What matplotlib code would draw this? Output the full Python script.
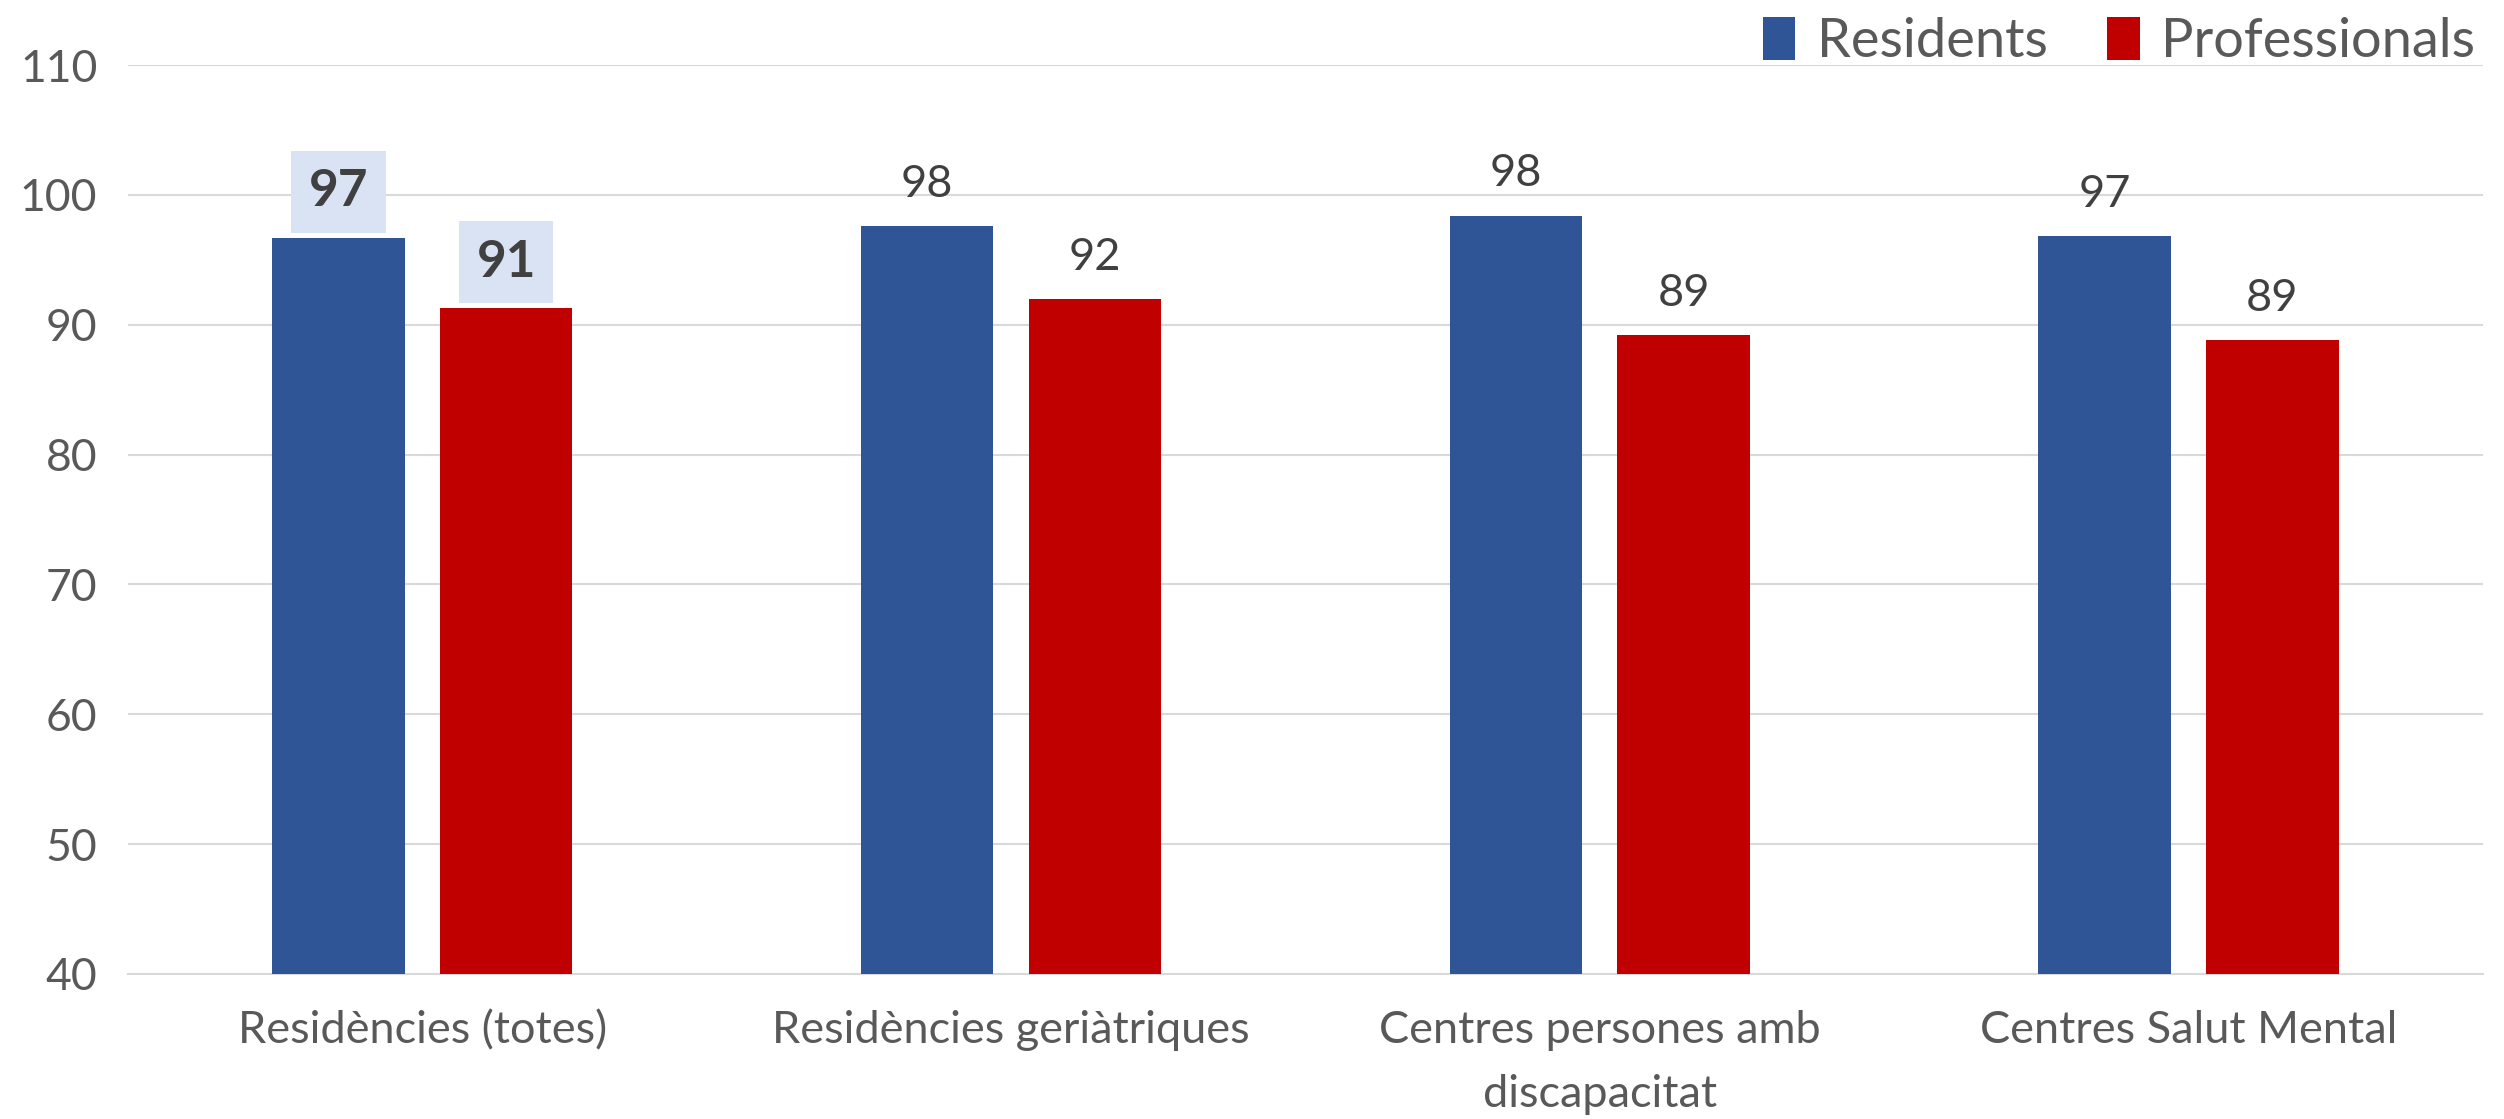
import numpy as np
import matplotlib.pyplot as plt

# Data
categories = ["Residències (totes)", "Residències geriàtriques",
              "Centres persones amb\ndiscapacitat", "Centres Salut Mental"]
residents = [96.7, 97.6, 98.4, 96.8]
professionals = [91.3, 92.0, 89.2, 88.8]
res_labels = ["97", "98", "98", "97"]
pro_labels = ["91", "92", "89", "89"]
series_names = ["Residents", "Professionals"]

plt.rcParams['font.family'] = ['Lato', 'DejaVu Sans']

blue = "#2F5597"
red = "#C00000"
grid_c = "#D9D9D9"
txt_c = "#595959"
lab_c = "#404040"

fig = plt.figure(figsize=(25.04, 11.19), dpi=100)
ax = fig.add_axes([0.0511, 0.1296, 0.9405, 0.8123])

x = np.arange(len(categories))
w = 0.225
off = 0.1425
b1 = ax.bar(x - off, residents, w, color=blue, label=series_names[0], zorder=3)
b2 = ax.bar(x + off, professionals, w, color=red, label=series_names[1], zorder=3)

# value labels
for i in range(len(categories)):
    for xv, yv, lab in [(x[i] - off, residents[i], res_labels[i]),
                        (x[i] + off, professionals[i], pro_labels[i])]:
        if i == 0:
            ax.annotate(lab, (xv, yv), xytext=(0, 33), textcoords="offset points",
                        ha="center", va="center", fontsize=37, fontweight="bold",
                        color=lab_c, zorder=4,
                        bbox=dict(boxstyle="square,pad=0.34", fc="#DAE3F3", ec="none"))
        else:
            ax.annotate(lab, (xv, yv), xytext=(0, 30), textcoords="offset points",
                        ha="center", va="center", fontsize=32.5, color=lab_c, zorder=4)

ax.set_ylim(40, 110)
ax.set_xlim(-0.5, len(categories) - 0.5)
ax.set_yticks(np.arange(40, 111, 10))
ax.yaxis.grid(True, color=grid_c, linewidth=1.5, zorder=0)
ax.set_axisbelow(True)
for s in ["top", "right", "left"]:
    ax.spines[s].set_visible(False)
ax.spines["bottom"].set_color(grid_c)
ax.spines["bottom"].set_linewidth(1.5)
ax.tick_params(axis="both", length=0, labelsize=32, labelcolor=txt_c)
ax.tick_params(axis="y", pad=22)
ax.tick_params(axis="x", labelsize=32.5, pad=26)
ax.set_xticks(x)
ax.set_xticklabels(categories, linespacing=1.7)

ax.legend(loc="lower right", bbox_to_anchor=(1.006, 0.975), ncol=2, frameon=False,
          fontsize=39, labelcolor=txt_c, handlelength=0.6, handleheight=0.85,
          handletextpad=0.4, columnspacing=1.1, borderaxespad=0)

fig.savefig("out.png", dpi=100)
